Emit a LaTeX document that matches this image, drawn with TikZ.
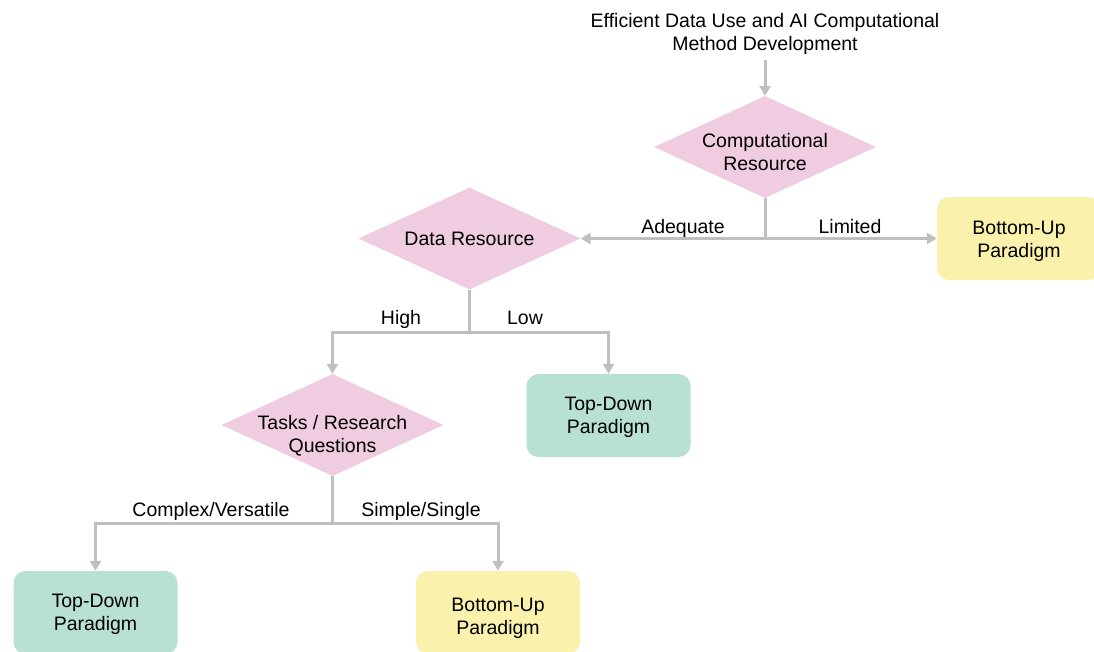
\documentclass[tikz,border=0pt]{standalone}
\usepackage{fontspec}
\setmainfont{Liberation Sans}
\usetikzlibrary{shapes.geometric,arrows.meta}
\definecolor{dpink}{RGB}{240,204,225}
\definecolor{bgreen}{RGB}{185,225,211}
\definecolor{byellow}{RGB}{250,241,172}
\definecolor{lgray}{RGB}{191,191,191}
\tikzset{
  txt/.style={font=\fontsize{19.5}{23}\selectfont, align=center, inner sep=0pt},
  decision/.style={diamond, fill=dpink, draw=none, minimum width=222pt, minimum height=102pt, inner sep=0pt},
  tdbox/.style={rectangle, rounded corners=12pt, fill=bgreen, minimum width=164pt, minimum height=83pt, inner sep=0pt},
  bubox/.style={rectangle, rounded corners=12pt, fill=byellow, minimum width=164pt, minimum height=83pt, inner sep=0pt},
  conn/.style={draw=lgray, line width=3pt},
  arr/.style={conn, -{Triangle[length=10pt,width=11pt]}},
  lbl/.style={txt, anchor=base}
}
\begin{document}
\begin{tikzpicture}[x=1pt,y=-1pt]
\useasboundingbox (0,0) rectangle (1094,651);
\node[txt] (T) at (765,34) {Efficient Data Use and AI Computational\\Method Development};
\node[decision, label={[txt,yshift=-5pt]center:Computational\\Resource}] (C) at (765,147) {};
\node[decision, label={[txt]center:Data Resource}] (D) at (469.5,238.5) {};
\node[decision, label={[txt,yshift=-11pt]center:Tasks / Research\\Questions}] (Q) at (332.5,425) {};
\node[bubox, label={[txt,yshift=-3pt]center:Bottom-Up\\Paradigm}] (B1) at (1019,238.5) {};
\node[tdbox, label={[txt,yshift=-1.5pt]center:Top-Down\\Paradigm}] (TD1) at (608.5,415.5) {};
\node[tdbox, label={[txt,yshift=-1.5pt]center:Top-Down\\Paradigm}] (TD2) at (95.5,612.5) {};
\node[bubox, label={[txt,yshift=-6pt]center:Bottom-Up\\Paradigm}] (B2) at (498,612.5) {};
\coordinate (J1) at (765,238.5);
\coordinate (J2) at (469.5,332);
\coordinate (J3) at (332.5,523);
\coordinate (S0) at (765,60);
\draw[arr] (S0) -- (C.north);
\draw[conn] (C.south) -- (J1);
\draw[arr] (J1) -- (D.east);
\draw[arr] (J1) -- (B1.west);
\draw[conn] (D.south) -- (J2);
\draw[arr] (J2) -| (Q.north);
\draw[arr] (J2) -| (TD1.north);
\draw[conn] (Q.south) -- (J3);
\draw[arr] (J3) -| (TD2.north);
\draw[arr] (J3) -| (B2.north);
\node[lbl] (LA) at (683,233) {Adequate};
\node[lbl] (LL) at (850,233) {Limited};
\node[lbl] (LH) at (401,324) {High};
\node[lbl] (LW) at (525,324) {Low};
\node[lbl] (LC) at (211,516) {Complex/Versatile};
\node[lbl] (LS) at (421,516) {Simple/Single};
\end{tikzpicture}
\end{document}
